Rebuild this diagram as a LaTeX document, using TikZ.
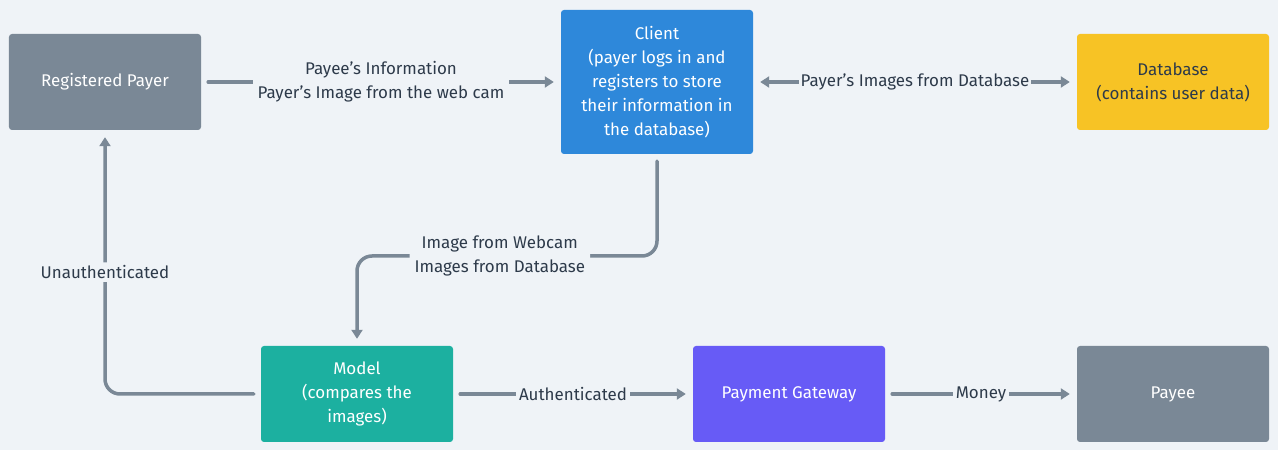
\documentclass[tikz,border=0pt]{standalone}
\usepackage{fontspec}
\setmainfont{Fira Sans}
\usetikzlibrary{arrows.meta}
\definecolor{bg}{HTML}{EFF3F7}
\definecolor{slate}{HTML}{7A8896}
\definecolor{ink}{HTML}{2D3A4A}
\definecolor{cblue}{HTML}{2E88DA}
\definecolor{cyellow}{HTML}{F7C325}
\definecolor{cteal}{HTML}{1CB0A0}
\definecolor{cpurple}{HTML}{675BF6}
\begin{document}
\begin{tikzpicture}[x=1bp,y=-1bp,
  box/.style={rectangle, rounded corners=3bp, minimum width=192bp, minimum height=96bp,
    text=white, align=center, inner sep=0pt, font=\fontsize{17}{24}\selectfont},
  conn/.style={draw=slate, line width=3.5bp, line cap=round, shorten <=7bp, shorten >=7bp,
    -{Triangle[length=9bp,width=11bp]}},
  lbl/.style={fill=bg, text=ink, align=center, inner xsep=5bp, inner ysep=2bp,
    font=\fontsize{17}{24}\selectfont}]
\useasboundingbox[fill=bg] (0,0) rectangle (1278,450);

\node[box, fill=slate] (rp) at (105,82) {Registered Payer};
\node[box, fill=cblue, minimum height=144bp] (cl) at (657,82)
  {Client\\(payer logs in and\\registers to store\\their information in\\the database)};
\node[box, fill=cyellow, text=ink] (db) at (1173,82) {Database\\(contains user data)};
\node[box, fill=cteal] (mo) at (357,394) {Model\\(compares the\\images)};
\node[box, fill=cpurple] (pg) at (789,394) {Payment Gateway};
\node[box, fill=slate] (pe) at (1173,394) {Payee};

\draw[conn] (rp) -- node[lbl]{Payee’s Information\\Payer’s Image from the web cam} (cl);
\draw[conn, {Triangle[length=9bp,width=11bp]}-{Triangle[length=9bp,width=11bp]}] (cl) -- node[lbl, inner xsep=2bp]{Payer’s Images from Database} (db);
\draw[conn, rounded corners=15bp] (cl.south) -- (657,256) -| node[lbl, pos=0.262]{Image from Webcam\\Images from Database} (mo.north);
\draw[conn, rounded corners=15bp] (mo.west) -| node[lbl, pos=0.731, inner xsep=2bp, inner ysep=3bp]{Unauthenticated} (rp.south);
\draw[conn] (mo) -- node[lbl, inner xsep=3bp]{Authenticated} (pg);
\draw[conn] (pg) -- node[lbl, inner xsep=3bp]{Money} (pe);
\end{tikzpicture}
\end{document}
